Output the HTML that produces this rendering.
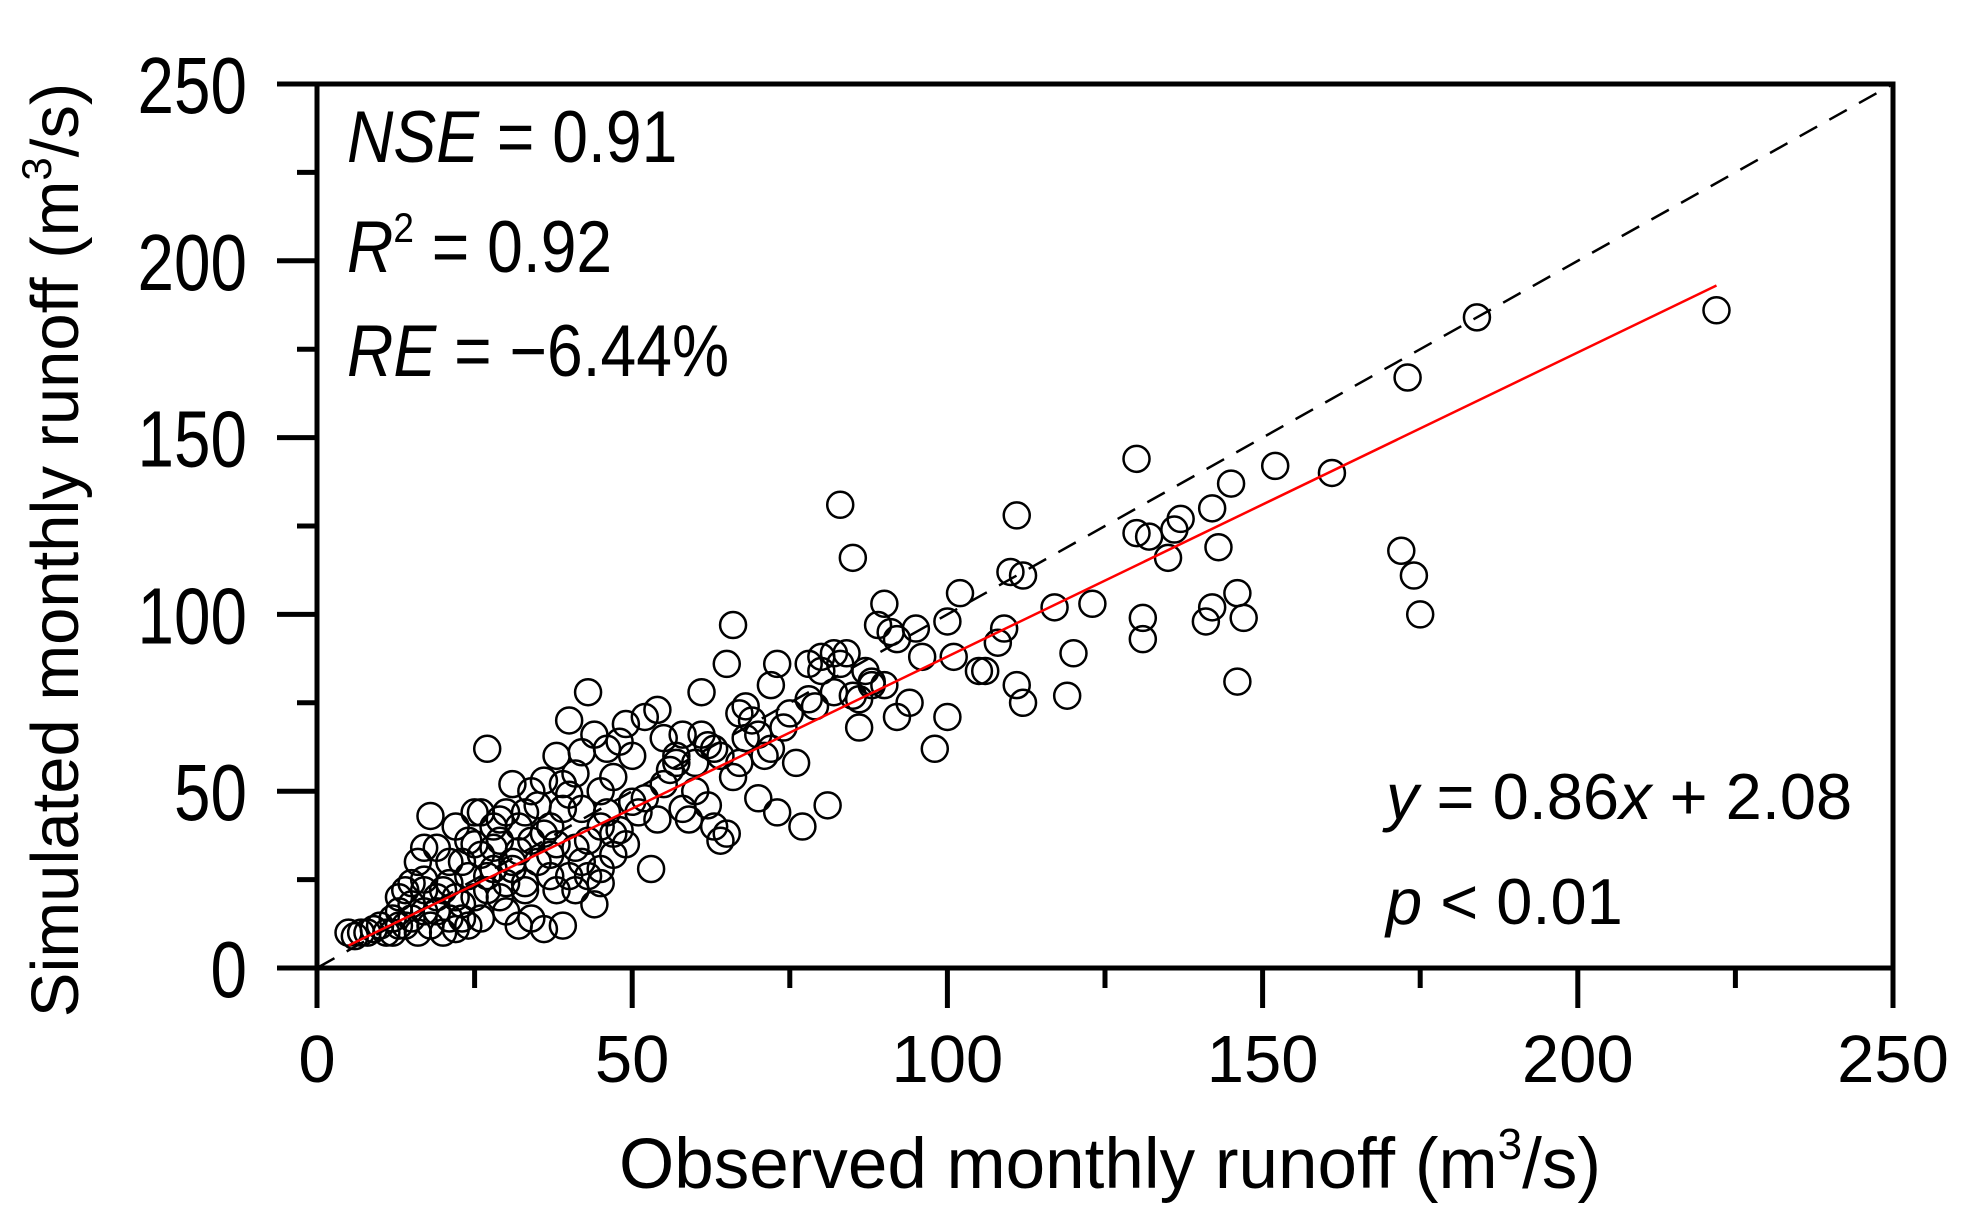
<!DOCTYPE html>
<html><head><meta charset="utf-8"><style>
html,body{margin:0;padding:0;background:#fff;}
svg{display:block;}
text{font-family:"Liberation Sans",Arial,sans-serif;fill:#000;}
</style></head><body>
<svg id="chart" width="1970" height="1219" viewBox="0 0 1970 1219" xmlns="http://www.w3.org/2000/svg">
<g id="marks"></g>
<g id="axes"></g>
<text x="347" y="162" font-size="73" transform="translate(347,0) scale(0.88,1) translate(-347,0)"><tspan font-style="italic">NSE</tspan> = 0.91</text>
<text x="347" y="272" font-size="73" transform="translate(347,0) scale(0.88,1) translate(-347,0)"><tspan font-style="italic">R</tspan><tspan font-size="42" dy="-30">2</tspan><tspan dy="30"> = 0.92</tspan></text>
<text x="347" y="376" font-size="73" transform="translate(347,0) scale(0.88,1) translate(-347,0)"><tspan font-style="italic">RE</tspan> = −6.44%</text>
<text x="1386" y="819" font-size="65"><tspan font-style="italic">y</tspan> = 0.86<tspan font-style="italic">x</tspan> + 2.08</text>
<text x="1386" y="924" font-size="65"><tspan font-style="italic">p</tspan> &lt; 0.01</text>
<text x="1110" y="1188" font-size="71" text-anchor="middle">Observed monthly runoff (m<tspan font-size="44" dy="-29">3</tspan><tspan dy="29">/s)</tspan></text>
<text x="0" y="0" font-size="67" text-anchor="middle" transform="translate(78,550) rotate(-90)">Simulated monthly runoff (m<tspan font-size="42" dy="-27">3</tspan><tspan dy="27">/s)</tspan></text>
</svg>
<script>
const obsValues=[222,184,173,130,152,161,145,137,142,136,130,132,135,143,146,142,141,147,131,131,146,172,174,175,111,83,85,112,110,117,123,120,119,112,111,108,109,102,100,101,100,98,106,105,90,91,89,92,95,96,94,92,90,88,85,86,84,82,80,78,81,77,73,75,72,71,70,73,69,68,67,66,66,65,64,63,64,65,61,61,62,60,58,57,56,55,54,52,53,50,50,49,48,47,46,45,44,43,42,41,40,40,39,38,37,36,35,34,33,32,31,30,29,28,27,26,25,24,23,22,21,20,19,18,17,16,15,14,13,12,11,10,9,8,7,6,5,44,46,47,48,42,45,41,39,36,34,32,30,28,26,24,22,20,18,16,14,12,13,15,17,19,21,23,25,26,27,29,31,33,35,37,38,39,42,43,45,47,49,51,52,54,55,57,59,58,60,62,63,67,68,70,72,74,76,78,79,80,82,83,86,87,88,34,31,29,21,19,17,23,25,27,30,32,36,38,40,43,45,41,37,33,15,17,13,22,24,28];
const simValues=[186,184,167,144,142,140,137,127,130,124,123,122,116,119,106,102,98,99,99,93,81,118,111,100,128,131,116,111,112,102,103,89,77,75,80,92,96,106,98,88,71,62,84,84,103,95,97,93,96,88,75,71,80,81,77,68,89,89,84,76,46,40,86,72,80,60,48,44,70,65,58,54,97,86,60,40,36,38,78,66,63,50,45,60,56,65,73,71,28,60,47,69,64,54,62,40,18,78,61,55,70,49,45,35,26,53,46,36,22,40,30,16,36,28,62,44,35,26,18,40,30,22,34,43,25,30,18,22,12,14,10,12,11,10,10,9,10,66,44,32,39,30,28,22,12,11,14,12,24,40,14,12,11,10,12,10,12,10,16,14,16,20,24,30,44,32,22,20,28,44,30,40,60,52,45,36,50,38,35,44,48,42,52,58,42,66,58,46,62,72,74,66,62,68,58,86,74,88,78,86,76,84,80,50,52,42,14,16,22,14,20,26,44,33,38,22,26,26,24,34,32,24,24,34,20,20,36,34];
const xTicks=[0,50,100,150,200,250];
const yTicks=[0,50,100,150,200,250];
const fitSlope=[0.86];
const fitIntercept=[2.08];
const fitRange=[5,222];

const NS="http://www.w3.org/2000/svg";
const L=317,R=1893,T=84,B=968;
const xs=v=>L+(v/250)*(R-L);
const ys=v=>B-(v/250)*(B-T);
function mk(tag,attrs,parent){const e=document.createElementNS(NS,tag);for(const k in attrs)e.setAttribute(k,attrs[k]);parent.appendChild(e);return e;}
const marks=document.getElementById('marks'),axes=document.getElementById('axes');

for(let i=0;i<obsValues.length;i++){
  const c=mk('circle',{cx:xs(obsValues[i]),cy:ys(simValues[i]),r:13,fill:'none',stroke:'#000','stroke-width':2.5},marks);
  
  
}
const d=mk('line',{x1:xs(0),y1:ys(0),x2:xs(250),y2:ys(250),stroke:'#000','stroke-width':2.5,'stroke-dasharray':'20,14'},marks);


const f=mk('line',{x1:xs(fitRange[0]),y1:ys(fitSlope[0]*fitRange[0]+fitIntercept[0]),x2:xs(fitRange[1]),y2:ys(fitSlope[0]*fitRange[1]+fitIntercept[0]),stroke:'#ff0000','stroke-width':2.5},marks);



const frame=mk('rect',{x:L,y:T,width:R-L,height:B-T,fill:'none',stroke:'#000','stroke-width':5},axes);


mk('line',{x1:L-40,y1:T,x2:L,y2:T,stroke:'#000','stroke-width':5},axes);
mk('line',{x1:R,y1:B,x2:R,y2:B+40,stroke:'#000','stroke-width':5},axes);

xTicks.forEach((v,i)=>{
  const t=mk('line',{x1:xs(v),y1:B,x2:xs(v),y2:B+40,stroke:'#000','stroke-width':5},axes);
  
  
  if(i<xTicks.length-1){mk('line',{x1:xs(v+25),y1:B,x2:xs(v+25),y2:B+20,stroke:'#000','stroke-width':5},axes);}
  const lb=mk('text',{x:xs(v),y:B+114,'font-size':67,'text-anchor':'middle'},axes);
  lb.textContent=v;
  
  
});
yTicks.forEach((v,i)=>{
  const t=mk('line',{x1:L-40,y1:ys(v),x2:L,y2:ys(v),stroke:'#000','stroke-width':5},axes);
  
  
  if(i<yTicks.length-1){mk('line',{x1:L-20,y1:ys(v+25),x2:L,y2:ys(v+25),stroke:'#000','stroke-width':5},axes);}
  const lb=mk('text',{x:0,y:0,'font-size':80,'text-anchor':'end',transform:`translate(${L-70},${ys(v)+29}) scale(0.82,1)`},axes);
  lb.textContent=v;
  
  
});
</script>
</body></html>
